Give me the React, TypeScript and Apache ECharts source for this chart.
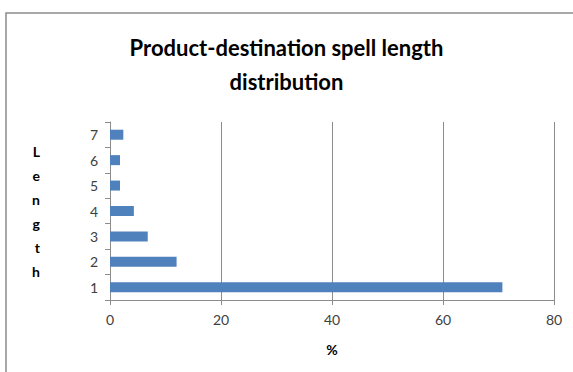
import React, { useEffect, useRef } from "react";
import * as echarts from "echarts";

const categories = ["1", "2", "3", "4", "5", "6", "7"];
const percentValues = [70.7, 12.0, 6.8, 4.3, 1.8, 1.8, 2.4];
const titleText = "Product-destination spell length\ndistribution";
const yName = "L\ne\nn\ng\nt\nh";
const xName = "%";

export default function App() {
  const ref = useRef<HTMLDivElement>(null);
  useEffect(() => {
    document.body.style.margin = "0";
    const chart = echarts.init(ref.current!, null, { renderer: "svg" });
    chart.setOption({
      animation: false,
      backgroundColor: "#ffffff",
      title: {
        text: titleText,
        left: "center",
        top: 25,
        textStyle: {
          fontFamily: "Lato",
          fontWeight: "bold",
          fontSize: 22,
          lineHeight: 34,
          color: "#000000",
        },
      },
      graphic: [
        {
          type: "rect",
          shape: { x: 6, y: 13, width: 600, height: 400 },
          style: { fill: "none", stroke: "#8c8c8c", lineWidth: 1.5 },
          silent: true,
          z: -1,
        },
      ],
      grid: { left: 110, right: 19, top: 122, bottom: 72, containLabel: false },
      xAxis: {
        type: "value",
        min: 0,
        max: 80,
        interval: 20,
        name: xName,
        nameLocation: "middle",
        nameGap: 42,
        nameTextStyle: { fontFamily: "Lato", fontWeight: "bold", fontSize: 14, color: "#000" },
        axisLine: { show: true, lineStyle: { color: "#8c8c8c" } },
        axisTick: { show: true, length: 5, lineStyle: { color: "#8c8c8c" } },
        splitLine: { show: true, lineStyle: { color: "#8c8c8c" } },
        axisLabel: { margin: 12, fontFamily: "Lato", fontSize: 14, color: "#404040" },
      },
      yAxis: {
        type: "category",
        data: categories,
        name: yName,
        nameLocation: "middle",
        nameGap: 70,
        nameRotate: 0,
        nameTextStyle: {
          fontFamily: "Lato",
          fontWeight: "bold",
          fontSize: 14,
          lineHeight: 24,
          color: "#000",
        },
        axisLine: { show: true, lineStyle: { color: "#8c8c8c" } },
        axisTick: { show: true, length: 5, lineStyle: { color: "#8c8c8c" } },
        splitLine: { show: false },
        axisLabel: { margin: 12, fontFamily: "Lato", fontSize: 14, color: "#404040" },
      },
      series: [
        {
          type: "bar",
          data: percentValues,
          barWidth: 10,
          itemStyle: { color: "#4f81bd" },
        },
      ],
    });
    return () => chart.dispose();
  }, []);
  return <div ref={ref} style={{ width: 573, height: 372 }} />;
}
